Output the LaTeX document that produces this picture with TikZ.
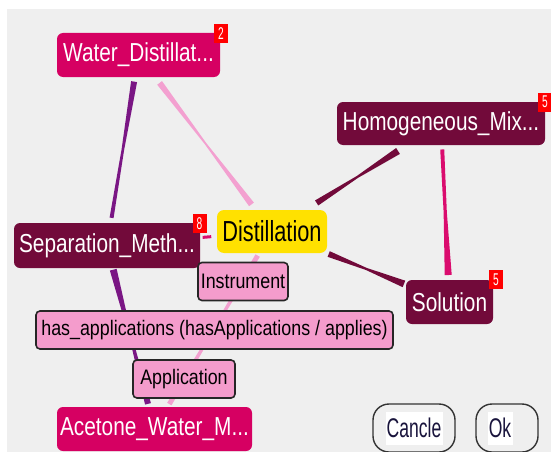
\documentclass[tikz,border=0pt]{standalone}
\usepackage{fontspec}
\setmainfont{Liberation Sans}
\newfontfamily\conceptfont{Liberation Sans}[FakeStretch=0.8]
\newfontfamily\focusfont{Liberation Sans}[FakeStretch=0.75]
\newfontfamily\rolefont{Liberation Sans}[FakeStretch=0.85]
\newfontfamily\buttonfont{Liberation Sans}[FakeStretch=0.65]
\newfontfamily\badgefont{Liberation Sans}[FakeStretch=0.6]
\usetikzlibrary{calc}

\definecolor{canvas}{RGB}{239,239,239}
\definecolor{magentanode}{RGB}{214,0,98}
\definecolor{maroonnode}{RGB}{114,10,58}
\definecolor{focusyellow}{RGB}{255,225,0}
\definecolor{rolepink}{RGB}{244,156,204}
\definecolor{edgepurple}{RGB}{122,22,132}
\definecolor{edgelight}{RGB}{243,160,208}
\definecolor{edgehot}{RGB}{218,12,110}
\definecolor{edgemaroon}{RGB}{114,10,58}
\definecolor{badgered}{RGB}{255,0,0}
\definecolor{buttontext}{RGB}{25,20,60}

\pgfdeclarelayer{canvaslayer}
\pgfdeclarelayer{edgelayer}
\pgfsetlayers{canvaslayer,edgelayer,main}

% tapered connector: colour, from, to, gap at start, gap at end,
% half width at start, in the middle, at the end
\newcommand\taperedge[8]{%
  \coordinate (te-s) at ($(#2)!#4!(#3)$);
  \coordinate (te-e) at ($(#3)!#5!(#2)$);
  \coordinate (te-m) at ($(te-s)!0.5!(te-e)$);
  \fill[#1] ($(te-s)!#6!90:(te-e)$) -- ($(te-m)!#7!90:(te-e)$)
    -- ($(te-e)!#8!-90:(te-s)$) -- ($(te-e)!#8!90:(te-s)$)
    -- ($(te-m)!#7!-90:(te-e)$) -- ($(te-s)!#6!-90:(te-e)$) -- cycle;
}

\tikzset{
  concept/.style={rounded corners=6pt, minimum height=44pt, inner sep=0pt,
    outer sep=0pt, text=white, font=\conceptfont\fontsize{26}{26}\selectfont},
  magentaconcept/.style={concept, fill=magentanode},
  maroonconcept/.style={concept, fill=maroonnode},
  focus/.style={rounded corners=7pt, inner sep=0pt, outer sep=0pt,
    fill=focusyellow, text=black, font=\focusfont\fontsize{29}{29}\selectfont},
  role/.style={fill=rolepink, draw=black!85, line width=1.6pt, rounded corners=4pt,
    minimum height=38pt, inner sep=0pt, text=black,
    font=\rolefont\fontsize{21}{21}\selectfont},
  badge/.style={fill=badgered, text=white, minimum width=14pt, minimum height=19pt,
    inner sep=0pt, font=\badgefont\fontsize{17}{17}\selectfont},
  button/.style={draw=black!80, line width=1.4pt, fill=canvas, rounded corners=16pt,
    minimum height=48pt, inner sep=0pt},
  buttonlabel/.style={fill=white, inner sep=0pt, minimum height=33pt,
    text=buttontext, font=\buttonfont\fontsize{27}{27}\selectfont}
}

\begin{document}
\begin{tikzpicture}[x=1pt,y=-1pt]
\useasboundingbox (0,0) rectangle (551,452);
\begin{pgfonlayer}{canvaslayer}
  \fill[white] (0,0) rectangle (551,452);
  \fill[canvas] (7,9) rectangle (551,452);
\end{pgfonlayer}

% concepts
\node[magentaconcept, minimum width=163pt] (wd) at (138.5,55) {Water\_Distillat...};
\node[maroonconcept, minimum width=208pt, minimum height=43pt] (hm) at (441,123.5) {Homogeneous\_Mix...};
\node[maroonconcept, minimum width=186pt, minimum height=45pt] (sm) at (107,245.5) {Separation\_Meth...};
\node[focus, minimum width=110pt, minimum height=43pt] (di) at (272,231.5) {Distillation};
\node[maroonconcept, minimum width=87pt] (so) at (449.5,302) {Solution};
\node[magentaconcept, minimum width=195pt] (ac) at (154.5,429) {Acetone\_Water\_M...};

% relation labels
\node[role, minimum width=90pt] (in) at (243,281.5) {Instrument};
\node[role, minimum width=357pt] (ha) at (214.5,330) {has\_applications (hasApplications / applies)};
\node[role, minimum width=102pt] (ap) at (184,379) {Application};

% counters
\node[badge] (wd-n) at ([xshift=1pt,yshift=-1pt]wd.north east) {2};
\node[badge] (hm-n) at (hm.north east) {5};
\node[badge] (sm-n) at ([xshift=-0.5pt,yshift=-0.5pt]sm.north east) {8};
\node[badge] (so-n) at ([xshift=3pt,yshift=0.5pt]so.north east) {5};

% buttons
\node[button, minimum width=82pt] (cancel) at (414,428) {};
\node[buttonlabel, minimum width=57pt] (cancel-t) at (cancel.center) {Cancle};
\node[button, minimum width=62pt] (ok) at (507,428) {};
\node[buttonlabel, minimum width=25pt] (ok-t) at ([xshift=-7pt]ok.center) {Ok};

% connectors
\begin{pgfonlayer}{edgelayer}
  \taperedge{edgepurple}{wd.center}{sm.center}{27pt}{28pt}{3pt}{1.3pt}{2pt}
  \taperedge{edgepurple}{sm.center}{ac.center}{25pt}{26pt}{3.5pt}{1.3pt}{3pt}
  \taperedge{edgelight}{wd.center}{di.center}{35pt}{34pt}{3pt}{0.9pt}{3pt}
  \taperedge{edgemaroon}{hm.center}{di.center}{51pt}{53pt}{3.5pt}{1.1pt}{3pt}
  \taperedge{edgehot}{hm.center}{so.center}{26pt}{27pt}{2pt}{1.6pt}{3.5pt}
  \taperedge{edgemaroon}{di.center}{so.center}{61pt}{49pt}{3pt}{1.1pt}{3.5pt}
  \taperedge{edgehot}{di.center}{sm.center}{61pt}{96pt}{1.5pt}{1.5pt}{1.5pt}
  \taperedge{edgelight}{di.center}{ac.center}{28pt}{29pt}{2.5pt}{1.3pt}{2.5pt}
\end{pgfonlayer}
\end{tikzpicture}
\end{document}
